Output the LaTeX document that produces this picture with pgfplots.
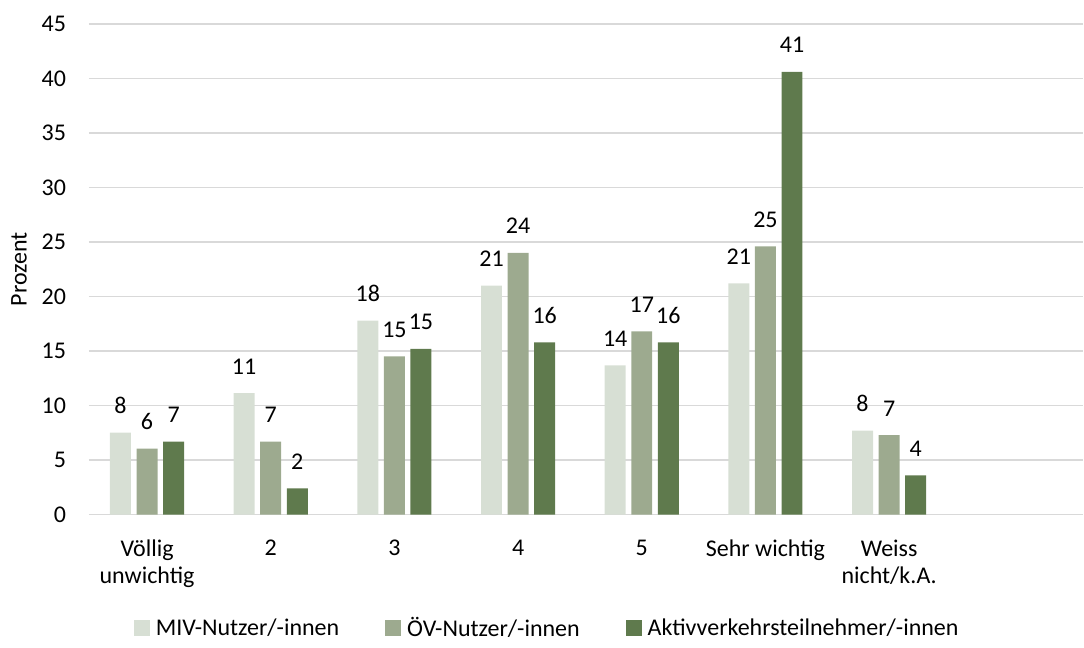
\documentclass[border=0pt]{standalone}
\usepackage{fontspec}
\setmainfont{Carlito}
\usepackage{pgfplots}
\pgfplotsset{compat=1.18}
\definecolor{cMIV}{HTML}{D7DFD4}
\definecolor{cOEV}{HTML}{9DAA8F}
\definecolor{cAKT}{HTML}{5F7A4D}
\definecolor{gridc}{HTML}{D9D9D9}
\begin{document}
\begin{tikzpicture}[font=\fontsize{12bp}{14bp}\selectfont]
\begin{axis}[
  scale only axis, width=497.5bp, height=245.5bp,
  ybar=2.8bp, bar width=10.5bp,
  xmin=-0.47, xmax=7.57, ymin=0, ymax=45,
  ytick={0,5,...,45},
  xtick={0,...,6},
  xticklabels={{Völlig\\unwichtig},2,3,4,5,{Sehr wichtig},{Weiss\\nicht/k.A.}},
  xticklabel style={align=center, yshift=-9bp, font=\fontsize{12bp}{13.5bp}\selectfont},
  yticklabel style={xshift=-8bp, font=\fontsize{12bp}{14bp}\selectfont},
  axis line style={draw=none},
  major tick length=0pt,
  ymajorgrids, grid style={gridc, line width=0.75bp},
  /pgf/number format/assume math mode=true,
  ylabel={Prozent},
  ylabel style={at={(axis description cs:-0.0704,0.5)}, anchor=center, font=\fontsize{12bp}{14bp}\selectfont},
  nodes near coords={\pgfmathprintnumber[fixed,precision=0]{\pgfplotspointmeta}},
  nodes near coords style={font=\fontsize{12bp}{14bp}\selectfont, yshift=6bp, text=black},
  legend style={at={(axis description cs:0.4618,-0.232)}, anchor=center, draw=none, fill=none,
    legend columns=-1, font=\fontsize{12bp}{14bp}\selectfont,
    /tikz/every even column/.append style={column sep=21bp},
    /tikz/every odd column/.append style={column sep=1bp}},
  legend image code/.code={\fill[#1] (0bp,-4bp) rectangle (8bp,4bp);},
  clip=false,
]
\addplot[fill=cMIV, draw=none] coordinates {(0,7.52) (1,11.15) (2,17.8) (3,21.0) (4,13.7) (5,21.2) (6,7.7)};
\addplot[fill=cOEV, draw=none] coordinates {(0,6.05) (1,6.7) (2,14.52) (3,24.0) (4,16.8) (5,24.6) (6,7.3)};
\addplot[fill=cAKT, draw=none] coordinates {(0,6.7) (1,2.4) (2,15.2) (3,15.8) (4,15.8) (5,40.6) (6,3.6)};
\legend{MIV-Nutzer/-innen, ÖV-Nutzer/-innen, Aktivverkehrsteilnehmer/-innen}
\end{axis}
\path[use as bounding box] (-44.5bp,-61bp) rectangle (497.5bp,257.5bp);
\end{tikzpicture}
\end{document}
